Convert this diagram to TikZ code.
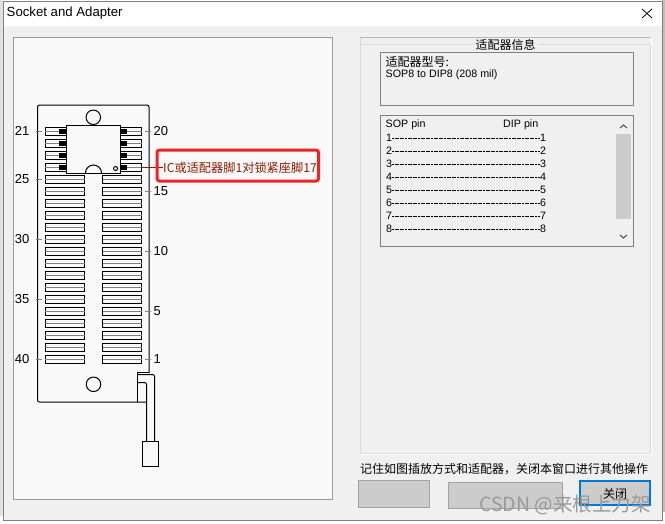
\documentclass[tikz,border=0pt]{standalone}
\usepackage{fontspec}
\setmainfont{Liberation Sans}
\newfontfamily\cjk{Noto Sans CJK SC}
\definecolor{winbg}{HTML}{F0F0F0}
\definecolor{panelbg}{HTML}{F9F9F9}
\definecolor{edgegray}{HTML}{9A9A9A}
\definecolor{boxgray}{HTML}{808080}
\definecolor{disabled}{HTML}{CCCCCC}
\definecolor{redbox}{HTML}{F52222}
\definecolor{darkred}{HTML}{8E1A00}
\definecolor{blueedge}{HTML}{0078D7}
\tikzset{
  x=1pt,y=-1pt,
  ink/.style={draw=black,line width=1pt},
  slot/.style={draw=black,line width=1pt,fill=panelbg},
  tick/.style={draw=gray,line width=1pt},
  pinlabel/.style={inner sep=0pt,font=\fontsize{13}{15}\selectfont},
  ui/.style={inner sep=0pt,anchor=west,font=\fontsize{10.7}{12}\selectfont},
  cjkui/.style={inner sep=0pt,anchor=west,font=\cjk\fontsize{12}{14}\selectfont},
  greybtn/.style={draw=black!20!disabled,fill=disabled,line width=0.7pt},
}
\begin{document}
\begin{tikzpicture}
\useasboundingbox (0,0) rectangle (665,523);
\fill[white] (0,0) rectangle (665,523);
% what lies behind the window
\fill[black!12] (0,0) rectangle (3,516);
\fill[black!25] (662,0) rectangle (665,512);
% window
\draw[draw=boxgray,fill=winbg,line width=0.8pt] (3,1.5) rectangle (662,520);
\fill[white] (3.5,2) rectangle (661.5,26);
\node[inner sep=0pt,anchor=west,font=\fontsize{13.2}{15}\selectfont] (title) at (6.5,13.5) {Socket and Adapter};
\draw[line width=0.8pt] (642,9) -- (652,18) (652,9) -- (642,18);
% left panel
\draw[draw=edgegray,fill=panelbg,line width=0.9pt] (13.5,37) rectangle (332.5,499);
% socket body
\draw[ink,rounded corners=2pt] (149,373) -- (149,105) -- (37.5,105) -- (37.5,402) -- (146.5,402);
\node[circle,ink,minimum size=14.5pt,inner sep=0pt] (tophole) at (93.3,117.3) {};
\node[circle,ink,minimum size=14.5pt,inner sep=0pt] (bothole) at (93.5,384.3) {};
\foreach \i in {0,...,19}{
  \pgfmathsetmacro{\yy}{131+12*\i}
  \draw[slot] (45,\yy-4) rectangle (84.5,\yy+4);
  \draw[slot] (102.5,\yy-4) rectangle (141.5,\yy+4);
  \draw[draw=gray,line width=0.9pt] (45,\yy) -- (84.5,\yy) (102.5,\yy) -- (141.5,\yy);
}
% ticks and labels
\foreach \yy/\t in {131/21,179/25,239/30,299/35,359/40}{
  \draw[tick] (36,\yy) -- (42,\yy);
  \node[pinlabel,anchor=east] at (29.5,\yy) {\t};
}
\foreach \yy/\t in {131/20,191/15,251/10,311/5,359/1}{
  \draw[tick] (145,\yy) -- (151,\yy);
  \node[pinlabel,anchor=west] at (153.5,\yy) {\t};
}
% IC
\foreach \yy in {131,143,155,167}{
  \fill[black] (59,\yy-2.5) rectangle (127,\yy+2.5);
}
\draw[ink,fill=panelbg] (66.5,125) rectangle (120.5,173);
\draw[ink] (85.5,173) arc[start angle=180,end angle=360,radius=8];
\draw[ink] (115.6,168.5) circle[radius=2];
% lever
\draw[ink] (137,402) -- (137,372.5) -- (149,372.5);
\draw[ink,rounded corners=2pt] (137,374.5) -- (154.5,374.5) -- (154.5,441);
\draw[ink,rounded corners=2pt] (137,382.5) -- (146.5,382.5) -- (146.5,441);
\draw[ink] (142.5,441) rectangle (158.5,466.7);
% red callout
\draw[draw=darkred,line width=0.9pt] (141,167) -- (163,167);
\draw[draw=redbox,rounded corners=2.5pt,line width=3pt] (157,150) rectangle (318.5,181);
\node[inner sep=0pt,anchor=west,text=darkred,font=\cjk\fontsize{12.2}{14}\selectfont] (callout) at (163,167.5) {IC或适配器脚1对锁紧座脚17};
% right group
\draw[draw=edgegray!70,line width=0.9pt] (360,37.5) -- (651,37.5);
\draw[draw=white,line width=1pt] (651,38) -- (651,454.5) -- (360,454.5);
\draw[draw=black!15,line width=0.8pt] (360,44.5) -- (650,44.5) (360,37.5) -- (360,453) -- (650,453) -- (650,44);
\fill[winbg] (474,38.2) rectangle (538,51);
\node[inner sep=0pt,font=\cjk\fontsize{12}{14}\selectfont] (group) at (505.5,45) {适配器信息};
\draw[draw=boxgray,line width=0.9pt] (380.5,52.5) rectangle (633.5,105);
\node[cjkui] (model) at (385.5,62) {适配器型号:};
\node[ui] (modelval) at (385.5,75) {SOP8 to DIP8 (208 mil)};
\draw[draw=boxgray,line width=0.9pt] (380.5,115.5) rectangle (633.5,246.5);
\node[ui] (sop) at (385.5,125) {SOP pin};
\node[ui] (dip) at (503,125) {DIP pin};
\foreach \i in {1,...,8}{
  \pgfmathsetmacro{\yy}{138+13*(\i-1)}
  \node[ui] at (386,\yy) {\i};
  \draw[draw=black,line width=0.7pt,dash pattern=on 2pt off 0.6pt] (392,\yy) -- (540,\yy);
  \node[ui] at (540,\yy) {\i};
}
\fill[disabled] (616,134) rectangle (631,219);
\draw[line width=1pt,draw=black!70] (620,128) -- (623.5,125) -- (627,128);
\draw[line width=1pt,draw=black!70] (620,235) -- (623.5,238) -- (627,235);
% footer
\node[cjkui] (note) at (360,469) {记住如图插放方式和适配器，关闭本窗口进行其他操作};
\draw[greybtn] (358.5,480.5) rectangle (429.5,507);
\draw[greybtn] (448.5,482) rectangle (562.5,508.5);
\draw[draw=blueedge,fill=disabled,line width=1.8pt] (580,481) rectangle (650,505);
\node[inner sep=0pt,font=\cjk\fontsize{12}{14}\selectfont] (close) at (615,494) {关闭};
\node[inner sep=0pt,anchor=east,text=black!40,font=\cjk\fontsize{19.5}{21}\selectfont] (wm) at (651,505) {CSDN @来根上力架};
\end{tikzpicture}
\end{document}
